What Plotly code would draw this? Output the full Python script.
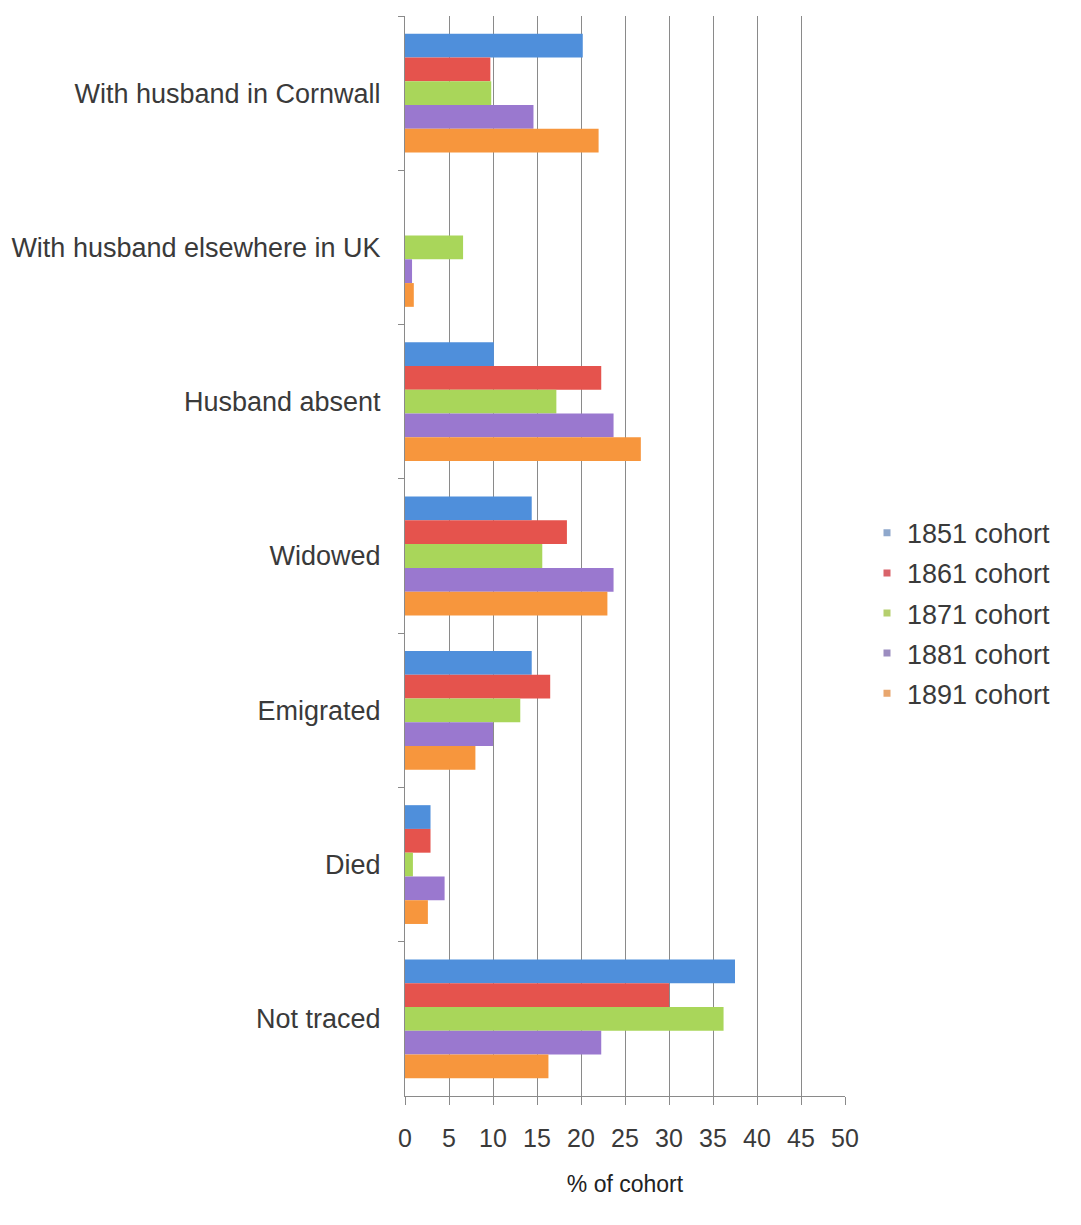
import plotly.graph_objects as go

categories = ["With husband in Cornwall", "With husband elsewhere in UK", "Husband absent",
              "Widowed", "Emigrated", "Died", "Not traced"]
series_names = ["1851 cohort", "1861 cohort", "1871 cohort", "1881 cohort", "1891 cohort"]
v1851 = [20.2, 0, 10.1, 14.4, 14.4, 2.9, 37.5]
v1861 = [9.7, 0, 22.3, 18.4, 16.5, 2.9, 30.0]
v1871 = [9.8, 6.6, 17.2, 15.6, 13.1, 0.9, 36.2]
v1881 = [14.6, 0.8, 23.7, 23.7, 10.0, 4.5, 22.3]
v1891 = [22.0, 1.0, 26.8, 23.0, 8.0, 2.6, 16.3]
colors = ["#4F8FDB", "#E5534D", "#A9D65A", "#9A78CF", "#F7963D"]
legend_colors = ["#8FA8CC", "#D9636A", "#B5CF6E", "#9C8DC0", "#E8A66E"]
x_ticks = [0, 5, 10, 15, 20, 25, 30, 35, 40, 45, 50]

font_family = "Liberation Sans, Arial, sans-serif"
txt = "#3a3a3a"
fig = go.Figure()
for name, vals, col in zip(series_names, [v1851, v1861, v1871, v1881, v1891], colors):
    fig.add_trace(go.Bar(y=categories, x=vals, name=name, orientation="h", showlegend=False,
                         marker=dict(color=col, line=dict(width=0))))
for name, col in zip(series_names, legend_colors):
    fig.add_trace(go.Scatter(x=[None], y=[None], mode="markers", name=name, legendgroup=name,
                             marker=dict(symbol="square", size=7, color=col)))

fig.update_layout(
    width=1081, height=1225,
    margin=dict(l=397, r=244, t=8, b=137, autoexpand=False),
    paper_bgcolor="white", plot_bgcolor="white",
    barmode="group", bargap=0.23, bargroupgap=0,
    font=dict(family=font_family, size=27, color=txt),
    legend=dict(x=1.05, y=0.447, xanchor="left", yanchor="middle",
                font=dict(size=27, color=txt), itemwidth=30,
                tracegroupgap=2, bgcolor="rgba(0,0,0,0)"),
)
fig.update_xaxes(range=[0, 50], tickvals=x_ticks, showgrid=True, gridcolor="#8a8a8a", gridwidth=1,
                 showline=True, linecolor="#8a8a8a", ticks="outside", ticklen=8, tickcolor="#8a8a8a",
                 tickfont=dict(size=25, color=txt), zeroline=False, ticklabelstandoff=12,
                 automargin=False,
                 title=dict(text="% of cohort", font=dict(size=23, color="#222222"), standoff=24))
fig.update_yaxes(autorange="reversed", showline=True, linecolor="#8a8a8a", ticks="outside",
                 tickson="boundaries", ticklen=6, tickcolor="#8a8a8a", showgrid=False,
                 automargin=False,
                 tickfont=dict(size=27, color=txt), ticklabelstandoff=18)
fig.write_html("out.html")
